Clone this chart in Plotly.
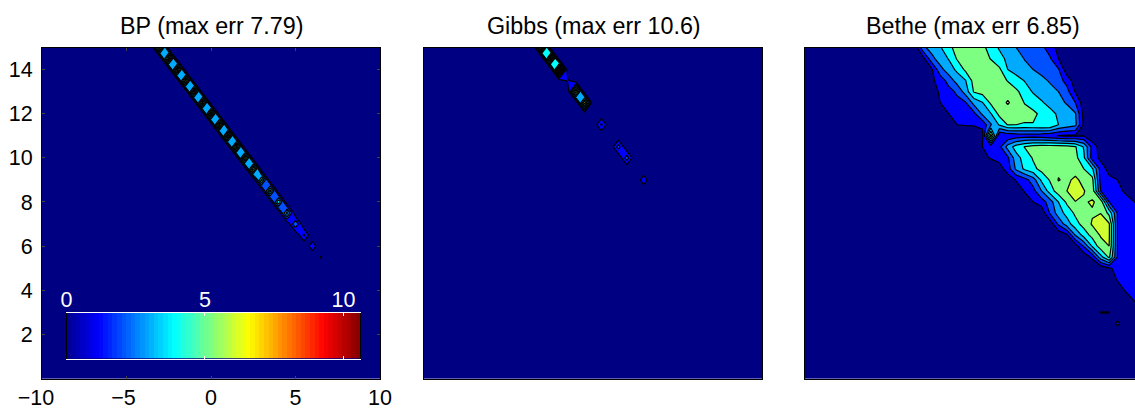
import numpy as np
import plotly.graph_objects as go

W, H = 1135, 408

grid_x = [v / 2 for v in range(-20, 21)]
grid_y = [v / 2 for v in range(0, 31)]

titles = ["BP (max err 7.79)", "Gibbs (max err 10.6)", "Bethe (max err 6.85)"]
x_ticks = [-10, -5, 0, 5, 10]
x_tick_text = ["\u221210\u00a0\u00a0", "\u22125\u00a0", "0", "5", "10"]
y_ticks = [2, 4, 6, 8, 10, 12, 14]
cbar_ticks = [0, 5, 10]
cbar_max = 10.6

# filled band colours: [0,1), [1,2), ...
band_colors = ["rgb(0,0,131)", "rgb(0,0,255)", "rgb(0,80,255)", "rgb(0,170,255)",
               "rgb(0,255,255)", "rgb(125,255,130)", "rgb(207,255,48)", "rgb(255,200,0)",
               "rgb(255,110,0)", "rgb(240,10,0)", "rgb(128,0,0)"]

# BP: error along the ridge x + y = 12
bp_x = [-3, -2.5, -2, -1.5, -1, -.5, 0, .5, 1, 1.5, 2, 2.5, 3, 3.5, 4, 4.5, 5, 5.5, 6, 6.5]
bp_y = [15, 14.5, 14, 13.5, 13, 12.5, 12, 11.5, 11, 10.5, 10, 9.5, 9, 8.5, 8, 7.5, 7, 6.5, 6, 5.5]
bp_z = [7.6, 7.7, 7.7, 7.6, 7.7, 7.6, 7.7, 7.79, 7.7, 7.6, 7.4, 7.0, 5.5, 5.5, 5.0, 4.6, 3.0, 2.2, 1.7, 1.1]

# Gibbs
gibbs_x = [-3, -2.5, -2, -1.5, -1, -.5, .5, 1.5, 2, 3]
gibbs_y = [15, 14.5, 14, 13.5, 13, 12.5, 11.5, 10.5, 10, 9]
gibbs_z = [9.5, 9.3, 10.6, 1.2, 7.2, 7.0, 2.2, 2.5, 2.6, 1.7]

# Bethe: one list per row, (first x, values at 0.5 spacing)
bethe_y150 = (-3.5, [.3, 2.8, 3.4, 3.9, 4.7, 5.4, 5.7, 5.6, 5.3, 4.5, 3.9, 3.5, 3.0, 2.7, 2.45, 2.2, 1.6, .6, 0])
bethe_y145 = (-3.0, [.7, 2.7, 3.5, 4.05, 5.1, 5.5, 5.6, 5.4, 4.95, 4.3, 3.8, 3.4, 2.95, 2.7, 2.4, 2.1, 1.0, .2])
bethe_y140 = (-3.0, [0, .85, 2.65, 3.5, 4.2, 5.2, 5.4, 5.6, 5.5, 5.2, 4.0, 3.6, 3.3, 3.0, 2.7, 2.4, 2.1, .3, 0])
bethe_y135 = (-3.0, [0, .8, 1.4, 2.4, 3.4, 3.95, 5.4, 5.6, 5.6, 5.4, 4.95, 4.4, 3.95, 3.6, 3.25, 2.9, 2.4, 1.65, .4])
bethe_y130 = (-2.5, [.5, 1.15, 1.6, 2.2, 3.45, 5.1, 5.4, 5.6, 5.7, 5.6, 5.2, 4.55, 3.9, 3.6, 3.3, 3.0, 2.35, .9, 0])
bethe_y125 = (-2.5, [.3, 1.0, 1.35, 1.65, 1.9, 3.35, 3.95, 5.2, 5.6, 6.1, 5.6, 4.95, 4.6, 4.1, 3.7, 3.3, 2.9, 2.0, .4, 0])
bethe_y120 = (-2.0, [.3, 1.0, 1.2, 1.4, 1.75, 3.2, 3.95, 5.3, 5.5, 5.5, 5.4, 5.2, 4.8, 4.3, 3.85, 3.5, 3.1, .6, 0])
bethe_y115 = (-2.0, [0, .7, 1.0, 1.08, 1.1, 1.2, 2.9, 4.1, 5.05, 5.0, 4.9, 4.95, 5.0, 5.0, 4.0, 3.6, 3.25, .8, 0])
bethe_y110 = (-.5, [0, .2, .7, 6.5, 1.0, 1.2, 1.4, 1.5, 1.5, 1.4, 1.2, .95, .8, .85, .95, .2])
bethe_y105 = (0.0, [.3, 1.0, 1.3, 1.7, 3.4, 4.45, 5.05, 5.4, 5.5, 5.5, 5.5, 5.4, 5.1, 3.9, 1.65, .5, 0])
bethe_y100 = (0.0, [.2, .7, 1.1, 1.4, 1.8, 3.6, 4.4, 5.1, 5.4, 5.5, 5.6, 5.7, 5.3, 4.2, 1.5, .75, 0])
bethe_y095 = (1.5, [.5, 1.5, 3.2, 4.2, 4.75, 5.3, 5.5, 5.8, 5.8, 5.6, 5.0, 4.2, 1.6, .6, 0])
bethe_y090 = (2.0, [.4, 1.1, 1.6, 2.5, 4.2, 5.1, 6.05, 5.8, 6.2, 5.7, 5.3, 1.6, 1.3, 1.0, .2])
bethe_y085 = (2.5, [.3, 1.1, 1.65, 3.0, 4.5, 5.5, 6.0, 6.85, 6.05, 5.6, 2.0, 1.7, 1.3, .8, .1])
bethe_y080 = (3.0, [.4, 1.0, 1.5, 2.5, 4.0, 5.2, 5.95, 5.9, 6.1, 5.7, 2.0, 1.7, 1.4, 1.0, .6])
bethe_y075 = (4.0, [.3, 2.1, 3.5, 4.35, 5.2, 5.6, 5.9, 5.98, 4.7, 1.9, 1.7, 1.5, 1.3])
bethe_y070 = (4.5, [.3, 2.2, 3.5, 4.6, 5.4, 6.1, 6.4, 6.1, 1.9, 1.7, 1.6, 1.4])
bethe_y065 = (5.0, [.2, .8, 3.05, 4.4, 5.35, 6.1, 6.1, 1.9, 1.75, 1.6, 1.4])
bethe_y060 = (5.5, [.1, .5, 2.1, 4.1, 5.6, 6.0, 1.9, 1.7, 1.6, 1.4])
bethe_y055 = (6.5, [.3, 1.2, 3.6, 5.2, 1.9, 1.6, 1.5, 1.3])
bethe_y050 = (7.5, [.3, .9, 1.2, 1.5, 1.5, 1.3])
bethe_y045 = (8.0, [.4, 1.1, 1.3, 1.4, 1.3])
bethe_y040 = (8.5, [.6, 1.1, 1.2, 1.2])
bethe_y035 = (9.0, [.5, 1.0, 1.1])
bethe_y030 = (7.5, [1.05, 1.05, 0, 0, .5, .6])
bethe_y025 = (8.5, [1.3])
bethe_rows = [(15, bethe_y150), (14.5, bethe_y145), (14, bethe_y140), (13.5, bethe_y135),
              (13, bethe_y130), (12.5, bethe_y125), (12, bethe_y120), (11.5, bethe_y115),
              (11, bethe_y110), (10.5, bethe_y105), (10, bethe_y100), (9.5, bethe_y095),
              (9, bethe_y090), (8.5, bethe_y085), (8, bethe_y080), (7.5, bethe_y075),
              (7, bethe_y070), (6.5, bethe_y065), (6, bethe_y060), (5.5, bethe_y055),
              (5, bethe_y050), (4.5, bethe_y045), (4, bethe_y040), (3.5, bethe_y035),
              (3, bethe_y030), (2.5, bethe_y025)]

xi = {v: i for i, v in enumerate(grid_x)}
yi = {v: i for i, v in enumerate(grid_y)}


def sparse(xs, ys, zs):
    z = np.zeros((len(grid_y), len(grid_x)))
    for a, b, c in zip(xs, ys, zs):
        z[yi[b], xi[a]] = c
    return z


bp_grid = sparse(bp_x, bp_y, bp_z)
gibbs_grid = sparse(gibbs_x, gibbs_y, gibbs_z)
bethe_grid = np.zeros((len(grid_y), len(grid_x)))
for row_y, (x0, vals) in bethe_rows:
    for k, v in enumerate(vals):
        bethe_grid[yi[row_y], xi[x0 + k * .5]] = v

# stepped colour scale: value v in band floor(v+.2)
zmin, zmax = -0.2, 10.8
stops = []
for i, c in enumerate(band_colors):
    a = (i - .2 - zmin) / (zmax - zmin)
    b = (i + .8 - zmin) / (zmax - zmin)
    stops += [[a, c], [b, c]]

fig = go.Figure()
for k, z in enumerate([bp_grid, gibbs_grid, bethe_grid]):
    fig.add_trace(go.Contour(
        x=grid_x, y=grid_y, z=z, xaxis=f"x{k + 1}", yaxis=f"y{k + 1}",
        zmin=zmin, zmax=zmax, colorscale=stops, showscale=False, hoverinfo="skip",
        contours=dict(start=1, end=10, size=1, coloring="fill", showlines=True),
        line=dict(color="black", width=1.2, smoothing=0)))

# colour bar inside first panel
cbar_n = 64
cbar_x = [cbar_max * (i + .5) / cbar_n for i in range(cbar_n)]
cbar_z = [cbar_x]
jet = [[0, "rgb(0,0,143)"], [.11, "rgb(0,0,255)"], [.365, "rgb(0,255,255)"],
       [.62, "rgb(255,255,0)"], [.875, "rgb(255,0,0)"], [1, "rgb(128,0,0)"]]
fig.add_trace(go.Heatmap(x=cbar_x, y=[0], z=cbar_z, xaxis="x4", yaxis="y4", colorscale=jet,
                         zmin=0, zmax=cbar_max, showscale=False, hoverinfo="skip"))

FONT = "Liberation Sans"
ydom = [(H - 378.5) / H, (H - 47.5) / H]
panels = [(42, 380), (424, 762), (805, W)]


def xa(p, **kw):
    return dict(domain=[p[0] / W, p[1] / W], range=[-10, 10], showgrid=False, zeroline=False,
                automargin=False, showline=True, linecolor="black", linewidth=1, **kw)


def ya(anchor, **kw):
    return dict(domain=ydom, range=[0, 15], showgrid=False, zeroline=False, anchor=anchor,
                automargin=False, showline=True, linecolor="black", linewidth=1, **kw)


tick_font = dict(family=FONT, size=21.5, color="black")
title_font = dict(family=FONT, size=23.3, color="black")
layout = dict(
    width=W, height=H, margin=dict(l=0, r=0, t=0, b=0), paper_bgcolor="white",
    plot_bgcolor="rgb(0,0,131)", showlegend=False,
    xaxis=xa(panels[0], tickvals=x_ticks, ticktext=x_tick_text, ticks="inside", ticklen=3,
             mirror="ticks", tickfont=tick_font, anchor="y"),
    yaxis=ya("x", tickvals=y_ticks, ticks="inside", ticklen=3, mirror="ticks", tickfont=tick_font,
             ticklabelstandoff=4),
    xaxis2=xa(panels[1], showticklabels=False, ticks="", mirror=True, anchor="y2"),
    yaxis2=ya("x2", showticklabels=False, ticks="", mirror=True),
    xaxis3=dict(domain=[panels[2][0] / W, 1], range=[-10, 9.53], showgrid=False, zeroline=False,
                automargin=False,
                showline=True, linecolor="black", linewidth=1, showticklabels=False, ticks="",
                mirror=True, anchor="y3"),
    yaxis3=ya("x3", showticklabels=False, ticks=""),
    xaxis4=dict(domain=[66.5 / W, 360 / W], range=[0, cbar_max], side="top", anchor="y4",
                automargin=False, ticklabelstandoff=-4,
                tickvals=cbar_ticks, ticks="inside", ticklen=3, tickcolor="white", mirror="ticks",
                showline=True, linecolor="white", linewidth=1, showgrid=False, zeroline=False,
                tickfont=dict(family=FONT, size=21.5, color="white")),
    yaxis4=dict(domain=[(H - 358.5) / H, (H - 312.5) / H], range=[-.5, .5], anchor="x4",
                automargin=False,
                showticklabels=False, ticks="", showgrid=False, zeroline=False,
                showline=True, linecolor="black", linewidth=1, mirror=True),
    annotations=[
        dict(text=titles[0], x=211 / W, y=(H - 26) / H, xref="paper", yref="paper", showarrow=False,
             xanchor="center", yanchor="middle", font=title_font),
        dict(text=titles[1], x=593.5 / W, y=(H - 26) / H, xref="paper", yref="paper", showarrow=False,
             xanchor="center", yanchor="middle", font=title_font),
        dict(text=titles[2], x=1082 / W, y=(H - 26) / H, xref="paper", yref="paper", showarrow=False,
             xanchor="right", yanchor="middle", font=title_font),
    ],
)
fig.update_layout(**layout)
fig.write_html("out.html", config={"displayModeBar": False},
               post_script="document.body.style.margin='0';document.body.style.overflow='hidden';")
